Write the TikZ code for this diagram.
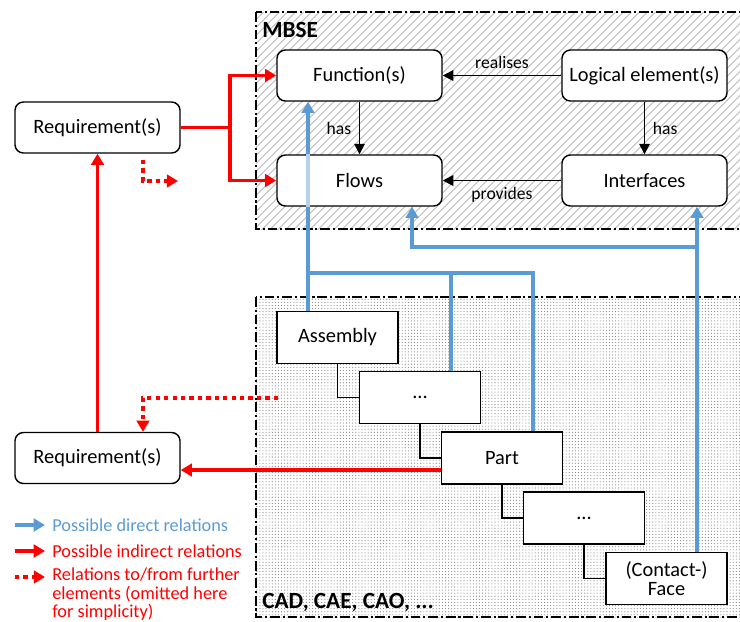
\documentclass[tikz,border=0pt]{standalone}
\usepackage{fontspec}
\setmainfont{Carlito}
\usetikzlibrary{arrows.meta,positioning,patterns.meta,calc}
\definecolor{relblue}{HTML}{5B9BD5}
\definecolor{relred}{HTML}{FF0000}

\begin{document}
\begin{tikzpicture}[x=0.025cm, y=-0.025cm,
  rbox/.style={draw, line width=1pt, rounded corners=6pt, fill=white, minimum width=4.125cm, minimum height=1.275cm, font=\fontsize{14.5}{16}\selectfont},
  tbox/.style={draw, line width=1.2pt, fill=white, minimum width=3.025cm, minimum height=1.3cm, align=center, font=\fontsize{14.5}{13.5}\selectfont},
  lab/.style={font=\fontsize{12.5}{14}\selectfont},
  rel/.style={line width=1.2pt, -{Triangle[length=7.5pt,width=7.5pt]}},
  direct/.style={relblue, line width=2.8pt, -{Triangle[length=8pt,width=9pt]}},
  indirect/.style={relred, line width=2.8pt, -{Triangle[length=8pt,width=9pt]}},
  further/.style={indirect, dash pattern=on 3pt off 3pt},
  tree/.style={line width=1.2pt},
  frame/.style={line width=1pt, dash pattern=on 7pt off 2pt on 1.5pt off 2pt},
  title/.style={font=\bfseries\fontsize{16.5}{16.5}\selectfont, anchor=west, inner sep=0pt},
  legend/.style={font=\fontsize{13}{13}\selectfont, anchor=west, inner sep=0pt, align=left}
]
\useasboundingbox (0,0) rectangle (740,621);

% the two worlds
\draw[frame, pattern={Lines[angle=45,distance=4pt,line width=0.6pt]}, pattern color=gray!60] (256,12) rectangle (745,229);
\draw[frame, pattern={Dots[distance=2.2pt,radius=0.4pt]}, pattern color=gray] (256,297) rectangle (745,617);
\node[title] (mbse) at (262,30) {MBSE};
\node[title] (cad) at (262,602) {CAD, CAE, CAO, ...};

% MBSE elements
\node[rbox] (fun) at (359.5,75.5) {Function(s)};
\node[rbox] (logic) at (644.5,75.5) {Logical element(s)};
\node[rbox] (flw) at (359.5,180.5) {Flows};
\node[rbox] (ifc) at (644.5,180.5) {Interfaces};
\node[rbox] (reqa) at (97.5,127.5) {Requirement(s)};
\node[rbox] (reqb) at (97.5,458) {Requirement(s)};

% product structure
\node[tbox] (asm) at (337.5,337.5) {Assembly};
\node[tbox] (dotsa) at (420,397.5) {...};
\node[tbox] (part) at (502,458) {Part};
\node[tbox] (dotsb) at (584,518) {...};
\node[tbox] (face) at (666.5,578.5) {(Contact-)\\Face};
\draw[tree] (asm.south) |- (dotsa.west);
\draw[tree] (dotsa.south) |- (part.west);
\draw[tree] (part.south) |- (dotsb.west);
\draw[tree] (dotsb.south) |- (face.west);

% relations inside MBSE
\draw[rel] (logic) -- node[lab, above=1pt] {realises} (fun);
\draw[rel] (fun) -- node[lab, left=2pt] {has} (flw);
\draw[rel] (logic) -- node[lab, right=2pt] {has} (ifc);
\draw[rel] (ifc) -- node[lab, below=1pt] {provides} (flw);

% direct relations
\coordinate (ba) at (308,273);
\coordinate (bb) at (451,273);
\coordinate (bc) at (533,273);
\coordinate (ca) at (412,247);
\coordinate (cb) at (697,247);
\draw[direct, -] (asm.north -| ba) -- (flw.south -| ba);
\draw[relblue!45, line width=2.8pt] (flw.south -| ba) -- (flw.north -| ba);
\draw[direct] (flw.north -| ba) -- (fun.south -| ba);
\draw[direct, -] (dotsa.north -| bb) -- (bb) -- (ba);
\draw[direct, -] (part.north -| bc) -- (bc) -- (bb);
\draw[direct] (face.north -| cb) -- (ifc.south -| cb);
\draw[direct] (cb) -- (ca) -- (flw.south -| ca);

% indirect relations
\coordinate (ra) at (230,127.5);
\draw[indirect] (reqa.east) -- (ra) |- (fun.west);
\draw[indirect] (ra) |- (flw.west);
\draw[indirect] (reqb.north) -- (reqa.south);
\draw[indirect] ([yshift=-0.3cm]part.west) -- ([yshift=-0.3cm]reqb.east);
\coordinate (sa) at (143,160);
\coordinate (sb) at (178,181);
\coordinate (sc) at (278,398);
\draw[further] (sa) |- (sb);
\draw[further] (sc) -| (reqb.north -| sa);

% legend
\node[legend, text=relblue] (lga) at (52,525) {Possible direct relations};
\node[legend, text=relred] (lgb) at (52,551) {Possible indirect relations};
\node[legend, text=relred, anchor=north west] (lgc) at (52,568) {Relations to/from further\\elements (omitted here\\for simplicity)};
\coordinate (la) at (15,525);
\coordinate (lb) at (15,551);
\coordinate (lc) at (15,577);
\coordinate (lcend) at (45,577);
\draw[direct] (la) -- ([xshift=-0.175cm]lga.west);
\draw[indirect] (lb) -- ([xshift=-0.175cm]lgb.west);
\draw[further] (lc) -- (lcend);
\end{tikzpicture}
\end{document}
